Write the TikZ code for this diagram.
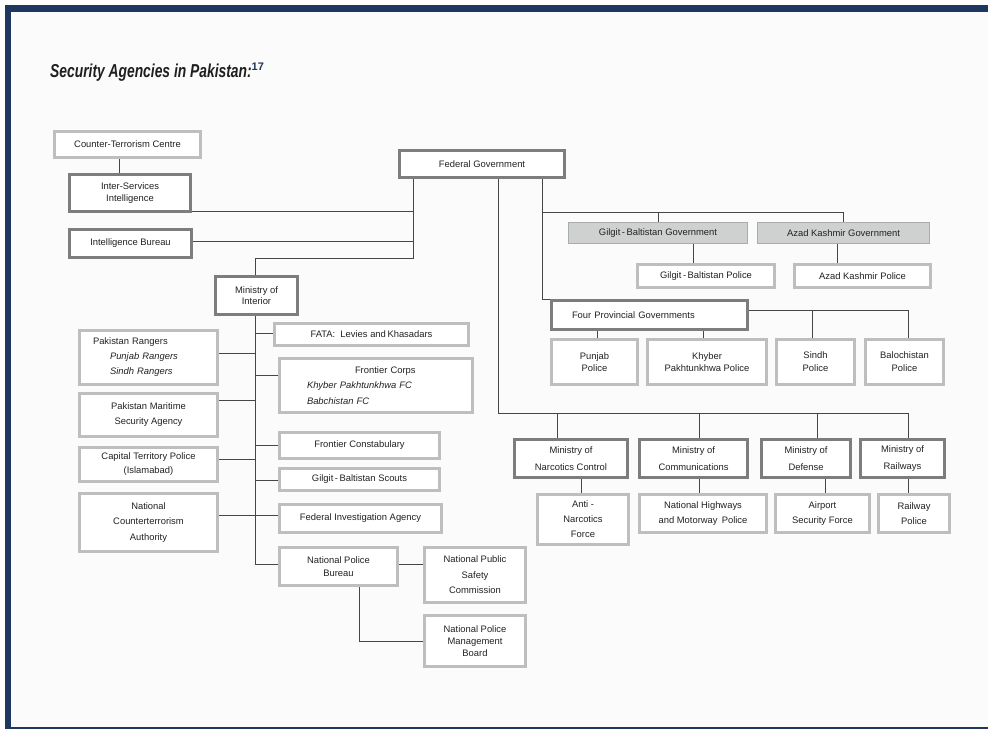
\documentclass[tikz,border=0pt]{standalone}
\usepackage{fontspec}
\setmainfont{Liberation Sans}
\newfontfamily\titlefont[FakeStretch=0.74]{Liberation Sans}
\usetikzlibrary{calc}
\definecolor{navy}{RGB}{31,54,97}
\definecolor{pagebg}{RGB}{251,251,251}
\definecolor{darkb}{RGB}{125,125,125}
\definecolor{lightb}{RGB}{190,190,190}
\definecolor{govb}{RGB}{170,172,172}
\definecolor{grayfill}{RGB}{207,208,208}
\definecolor{lineg}{RGB}{70,70,70}
\definecolor{txt}{RGB}{34,34,34}
\definecolor{supc}{RGB}{30,52,90}
\pgfdeclarelayer{bg}
\pgfdeclarelayer{conns}
\pgfsetlayers{bg,conns,main}
\tikzset{
 base/.style={line width=2.6pt, fill=white, inner sep=0pt, align=center, text=txt,
   font=\fontsize{9.4pt}{12pt}\selectfont},
 darkbox/.style={base, draw=darkb},
 lightbox/.style={base, draw=lightb},
 govbox/.style={base, draw=govb, line width=1.4pt, fill=grayfill},
 conn/.style={draw=lineg, line width=0.9pt},
 lsp/.style={font=\fontsize{9.4pt}{#1pt}\selectfont},
}
\newcommand\bx[7]{\node[#2, minimum width={#5pt-#3pt-2.6pt}, minimum height={#6pt-#4pt-2.6pt}] (#1) at ({(#3+#5)/2},{(#4+#6)/2}) {#7};}
\begin{document}
\begin{tikzpicture}[x=1pt,y=-1pt]
\useasboundingbox (0,0) rectangle (988,729);
\begin{pgfonlayer}{bg}
\fill[white] (0,0) rectangle (988,729);
\fill[navy] (5,5) rectangle (988,729);
\fill[pagebg] (11,12) rectangle (988,726.5);
\end{pgfonlayer}

% title
\node[anchor=base west, inner sep=0pt, text=black!88] (title) at (50,77)
  {\titlefont\fontsize{18.7pt}{20pt}\selectfont\bfseries\itshape Security Agencies in Pakistan:\raisebox{6.5pt}{\normalfont\bfseries\fontsize{11pt}{12pt}\selectfont\color{supc}17}};

% left intelligence column
\bx{CTC}{lightbox}{53}{130}{202}{159}{Counter-Terrorism Centre}
\bx{ISI}{darkbox, lsp=11.5}{68}{173}{192}{213}{Inter-Services\\Intelligence}
\bx{IB}{darkbox}{68}{228}{193}{259}{Intelligence Bureau}
\bx{FG}{darkbox}{398}{149}{566}{179}{Federal Government}

% Ministry of Interior subtree
\bx{MoI}{darkbox, lsp=11.5}{214}{275}{299}{316}{Ministry of\\Interior}
\bx{FATA}{lightbox}{273}{322}{470}{347}{FATA:\ \ Levies and\,Khasadars}
\node[lightbox, lsp=15, align=left, minimum height={57pt-2.6pt}, text width=111pt, inner xsep=13.7pt]
  (PR) at (148.5,357.5) {Pakistan Rangers\\\hspace*{17pt}\textit{Punjab Rangers}\\\hspace*{17pt}\textit{Sindh Rangers}};
\node[lightbox, lsp=15.5, align=left, minimum height={57pt-2.6pt}, text width=138pt, inner xsep=27.7pt]
  (FC) at (376,385.5) {\hspace*{48pt}Frontier Corps\\\textit{Khyber Pakhtunkhwa FC}\\\textit{Babchistan FC}};
\bx{PMSA}{lightbox, lsp=15}{78}{392}{219}{438}{Pakistan Maritime\\Security Agency}
\bx{FCon}{lightbox}{278}{431}{441}{460}{Frontier Constabulary}
\bx{CTP}{lightbox, lsp=14}{78}{446}{219}{483}{Capital Territory Police\\(Islamabad)}
\bx{GBS}{lightbox}{278}{467}{441}{492}{Gilgit\,-\,Baltistan Scouts}
\bx{NCTA}{lightbox, lsp=15.5}{78}{492}{219}{553}{National\\Counterterrorism\\Authority}
\bx{FIA}{lightbox}{278}{503}{443}{534}{Federal Investigation Agency}
\bx{NPB}{lightbox, lsp=13.5}{278}{546}{399}{587}{National Police\\Bureau}
\bx{NPSC}{lightbox, lsp=15.5}{423}{546}{527}{604}{National Public\\Safety\\Commission}
\bx{NPMB}{lightbox, lsp=12}{423}{614}{527}{668}{National Police\\Management\\Board}

% regional governments
\bx{GBG}{govbox}{567}{221}{749}{245}{Gilgit\,-\,Baltistan Government}
\bx{AKG}{govbox}{756}{221}{931}{245}{Azad Kashmir Government}
\bx{GBP}{lightbox}{636}{263}{776}{289}{Gilgit\,-\,Baltistan Police}
\bx{AKP}{lightbox}{793}{263}{932}{289}{Azad Kashmir Police}
\node[darkbox, align=left, minimum height={32pt-2.6pt}, text width=155pt, inner xsep=20.7pt]
  (FPG) at (649.5,315) {Four Provincial Governments};
\bx{PP}{lightbox, lsp=11.5}{550}{338}{639}{386}{Punjab\\Police}
\bx{KPP}{lightbox, lsp=12}{646}{338}{768}{386}{Khyber\\Pakhtunkhwa Police}
\bx{SP}{lightbox, lsp=13}{775}{338}{856}{386}{Sindh\\Police}
\bx{BP}{lightbox, lsp=13}{864}{338}{945}{386}{Balochistan\\Police}

% ministries
\bx{MNC}{darkbox, lsp=17}{513}{438}{629}{479}{Ministry of\\Narcotics Control}
\bx{MoC}{darkbox, lsp=17}{638}{438}{749}{479}{Ministry of\\Communications}
\bx{MoD}{darkbox, lsp=17}{760}{438}{852}{479}{Ministry of\\Defense}
\bx{MoR}{darkbox, lsp=17}{859}{438}{946}{479}{Ministry of\\Railways}
\bx{ANF}{lightbox, lsp=15}{536}{493}{630}{546}{Anti -\\Narcotics\\Force}
\bx{NHMP}{lightbox, lsp=15}{638}{493}{768}{534}{National Highways\\and Motorway\ \,Police}
\bx{ASF}{lightbox, lsp=15}{774}{493}{871}{534}{Airport\\Security Force}
\bx{RP}{lightbox, lsp=15}{877}{493}{951}{534}{Railway\\Police}

% junction coordinates
\coordinate (jCTC) at (119,0);
\coordinate (jISI) at (413,211);
\coordinate (jIB) at (413,241);
\coordinate (jL) at (413,258);
\coordinate (jR) at (542,212);
\coordinate (xGB) at (693,0);
\coordinate (xAK) at (837,0);
\coordinate (jFPG) at (908,310);
\coordinate (xSP) at (812,0);
\coordinate (xPP) at (597,0);
\coordinate (xKPP) at (703,0);
\coordinate (jM) at (498,413);
\coordinate (jMR) at (908,413);
\coordinate (xMNC) at (557,0);
\coordinate (xMoC) at (699,0);
\coordinate (xMoD) at (817,0);
\coordinate (xANF) at (581,0);
\coordinate (xASF) at (825,0);
\coordinate (xT) at (255,0);
\coordinate (jT) at (255,564);
\coordinate (yPR) at (0,353);
\coordinate (yPMSA) at (0,400);
\coordinate (yCTP) at (0,459);
\coordinate (yNCTA) at (0,515);
\coordinate (yFATA) at (0,333);
\coordinate (yFC) at (0,375);
\coordinate (yFCon) at (0,445);
\coordinate (yGBS) at (0,480);
\coordinate (jNPB) at (359,641);

\begin{pgfonlayer}{conns}
\draw[conn] (CTC.south -| jCTC) -- (ISI.north -| jCTC);
\draw[conn] (FG.south -| jL) -- (jL) -| (MoI.north -| xT);
\draw[conn] (ISI.east |- jISI) -- (jISI);
\draw[conn] (IB.east |- jIB) -- (jIB);
% right branch
\draw[conn] (FG.south -| jR) |- (FPG.north west);
\draw[conn] (jR) -- (jR -| AKG.north) -- (AKG.north);
\draw[conn] (GBG.north) -- (GBG.north |- jR);
\draw[conn] (GBG.south -| xGB) -- (GBP.north -| xGB);
\draw[conn] (AKG.south -| xAK) -- (AKP.north -| xAK);
\draw[conn] (FPG.east |- jFPG) -- (jFPG) -- (BP.north -| jFPG);
\draw[conn] (SP.north -| xSP) -- (jFPG -| xSP);
\draw[conn] (FPG.south -| xPP) -- (PP.north -| xPP);
\draw[conn] (FPG.south -| xKPP) -- (KPP.north -| xKPP);
% middle branch
\draw[conn] (FG.south -| jM) -- (jM) -- (jMR) -- (MoR.north -| jMR);
\draw[conn] (jM -| xMNC) -- (MNC.north -| xMNC);
\draw[conn] (jM -| xMoC) -- (MoC.north -| xMoC);
\draw[conn] (jM -| xMoD) -- (MoD.north -| xMoD);
\draw[conn] (MNC.south -| xANF) -- (ANF.north -| xANF);
\draw[conn] (MoC.south -| xMoC) -- (NHMP.north -| xMoC);
\draw[conn] (MoD.south -| xASF) -- (ASF.north -| xASF);
\draw[conn] (MoR.south -| jMR) -- (RP.north -| jMR);
% interior trunk
\draw[conn] (MoI.south -| xT) -- (jT) -- (NPB.west |- jT);
\draw[conn] (PR.east |- yPR) -- (xT |- yPR);
\draw[conn] (PMSA.east |- yPMSA) -- (xT |- yPMSA);
\draw[conn] (CTP.east |- yCTP) -- (xT |- yCTP);
\draw[conn] (NCTA.east |- yNCTA) -- (FIA.west |- yNCTA);
\draw[conn] (xT |- yFATA) -- (FATA.west |- yFATA);
\draw[conn] (xT |- yFC) -- (FC.west |- yFC);
\draw[conn] (xT |- yFCon) -- (FCon.west |- yFCon);
\draw[conn] (xT |- yGBS) -- (GBS.west |- yGBS);
\draw[conn] (NPB.east |- jT) -- (NPSC.west |- jT);
\draw[conn] (NPB.south -| jNPB) -- (jNPB) -- (NPMB.west |- jNPB);
\end{pgfonlayer}
\end{tikzpicture}
\end{document}
